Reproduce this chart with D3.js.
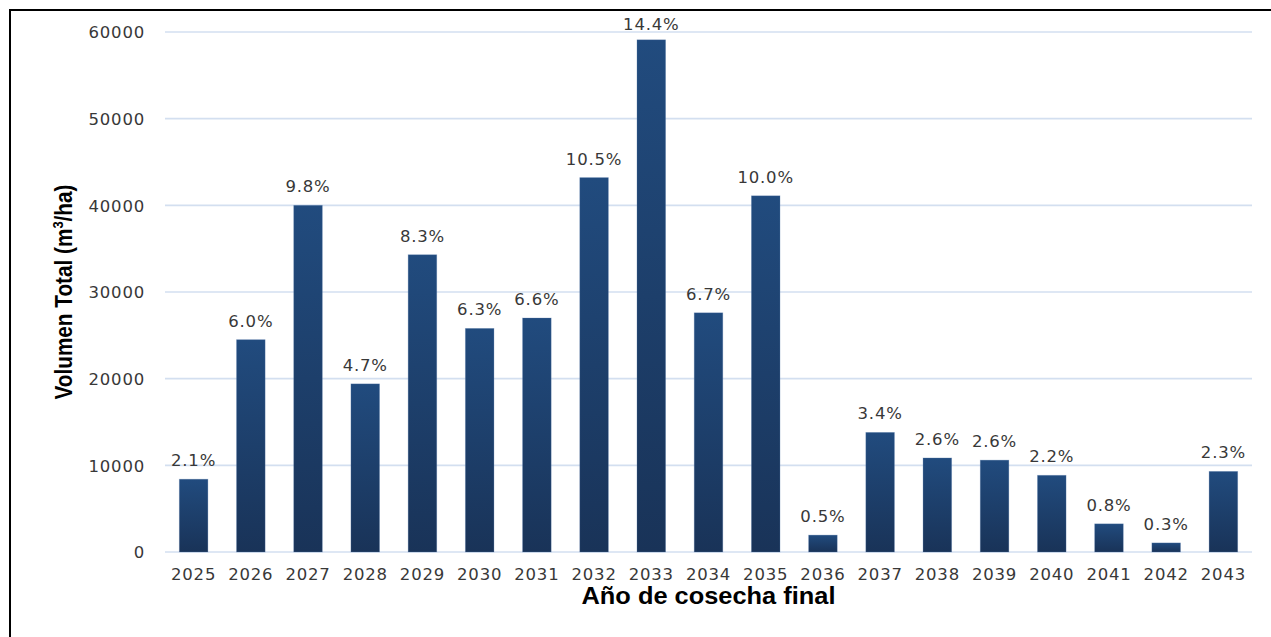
<!DOCTYPE html>
<html>
<head>
<meta charset="utf-8">
<script src="https://cdn.jsdelivr.net/npm/d3@7"></script>
<style>
  body { margin: 0; background: #fff; }
  svg { display: block; }
  .tick text, .lbl { font-family: "DejaVu Sans", Verdana, sans-serif; font-size: 16.5px; letter-spacing: 0.8px; fill: #383838; }
  .title { font-family: "Liberation Sans", Arial, sans-serif; font-weight: bold; fill: #000; }
</style>
</head>
<body>
<div id="chart"></div>
<script>
var years = ["2025","2026","2027","2028","2029","2030","2031","2032","2033","2034",
             "2035","2036","2037","2038","2039","2040","2041","2042","2043"];
var volumes = [8400, 24500, 40000, 19400, 34300, 25800, 27000, 43200, 59100, 27600,
               41100, 1950, 13800, 10850, 10600, 8850, 3250, 1050, 9300];
var percents = ["2.1%","6.0%","9.8%","4.7%","8.3%","6.3%","6.6%","10.5%","14.4%","6.7%",
                "10.0%","0.5%","3.4%","2.6%","2.6%","2.2%","0.8%","0.3%","2.3%"];
var yTicks = [0, 10000, 20000, 30000, 40000, 50000, 60000];

var W = 1271, H = 637;
var margin = {left: 165, right: 19, top: 32, bottom: 85};

var svg = d3.select("#chart").append("svg")
  .attr("width", W)
  .attr("height", H);

// frame (only top and left edges fall inside the picture)
svg.append("rect")
  .attr("x", 10).attr("y", 10)
  .attr("width", W + 50).attr("height", H + 50)
  .attr("fill", "none")
  .attr("stroke", "#000")
  .attr("stroke-width", 2);

var defs = svg.append("defs");
var grad = defs.append("linearGradient")
  .attr("id", "barGrad")
  .attr("x1", 0).attr("y1", 0).attr("x2", 0).attr("y2", 1);
grad.append("stop").attr("offset", "0%").attr("stop-color", "#214b7e");
grad.append("stop").attr("offset", "100%").attr("stop-color", "#193358");

var x = d3.scaleBand()
  .domain(years)
  .range([margin.left, W - margin.right])
  .paddingInner(0.5)
  .paddingOuter(0.25);

var y = d3.scaleLinear()
  .domain([0, 60000])
  .range([H - margin.bottom, margin.top]);

// gridlines
svg.append("g")
  .selectAll("line")
  .data(yTicks)
  .enter().append("line")
  .attr("x1", margin.left)
  .attr("x2", W - margin.right)
  .attr("y1", function(d){ return y(d); })
  .attr("y2", function(d){ return y(d); })
  .attr("stroke", "#d3dff0")
  .attr("stroke-width", 1.6);

// y axis
var yAxis = svg.append("g")
  .attr("transform", "translate(" + (margin.left - 20) + ",0)")
  .call(d3.axisLeft(y).tickValues(yTicks).tickSize(0).tickPadding(0).tickFormat(d3.format("d")));
yAxis.select(".domain").remove();
yAxis.selectAll(".tick text").attr("dy", "0.36em");

// x axis
var xAxis = svg.append("g")
  .attr("transform", "translate(0," + (H - margin.bottom) + ")")
  .call(d3.axisBottom(x).tickSize(0).tickPadding(0));
xAxis.select(".domain").remove();
xAxis.selectAll(".tick text").attr("dy", "0").attr("y", 28);

// bars
svg.append("g")
  .selectAll("rect")
  .data(volumes)
  .enter().append("rect")
  .attr("x", function(d, i){ return x(years[i]); })
  .attr("width", x.bandwidth())
  .attr("y", function(d){ return y(d); })
  .attr("height", function(d){ return y(0) - y(d); })
  .attr("fill", "url(#barGrad)")
  .attr("stroke", "#5b7fae")
  .attr("stroke-opacity", 0.35)
  .attr("stroke-width", 0.8);

// data labels
svg.append("g")
  .selectAll("text")
  .data(volumes)
  .enter().append("text")
  .attr("class", "lbl")
  .attr("text-anchor", "middle")
  .attr("x", function(d, i){ return x(years[i]) + x.bandwidth() / 2; })
  .attr("y", function(d){ return Math.max(y(d) - 13, 30); })
  .text(function(d, i){ return percents[i]; });

// axis titles
svg.append("text")
  .attr("class", "title")
  .attr("x", (margin.left + W - margin.right) / 2)
  .attr("y", 604)
  .attr("text-anchor", "middle")
  .attr("font-size", 24)
  .attr("textLength", 254)
  .attr("lengthAdjust", "spacingAndGlyphs")
  .text("Año de cosecha final");

var yt = svg.append("text")
  .attr("class", "title")
  .attr("transform", "translate(72," + ((margin.top + H - margin.bottom) / 2) + ") rotate(-90)")
  .attr("text-anchor", "middle")
  .attr("font-size", 24)
  .attr("textLength", 215)
  .attr("lengthAdjust", "spacingAndGlyphs");
yt.append("tspan").text("Volumen Total (m");
yt.append("tspan").attr("font-size", 15).attr("dy", -9).text("3");
yt.append("tspan").attr("dy", 9).text("/ha)");
</script>
</body>
</html>
